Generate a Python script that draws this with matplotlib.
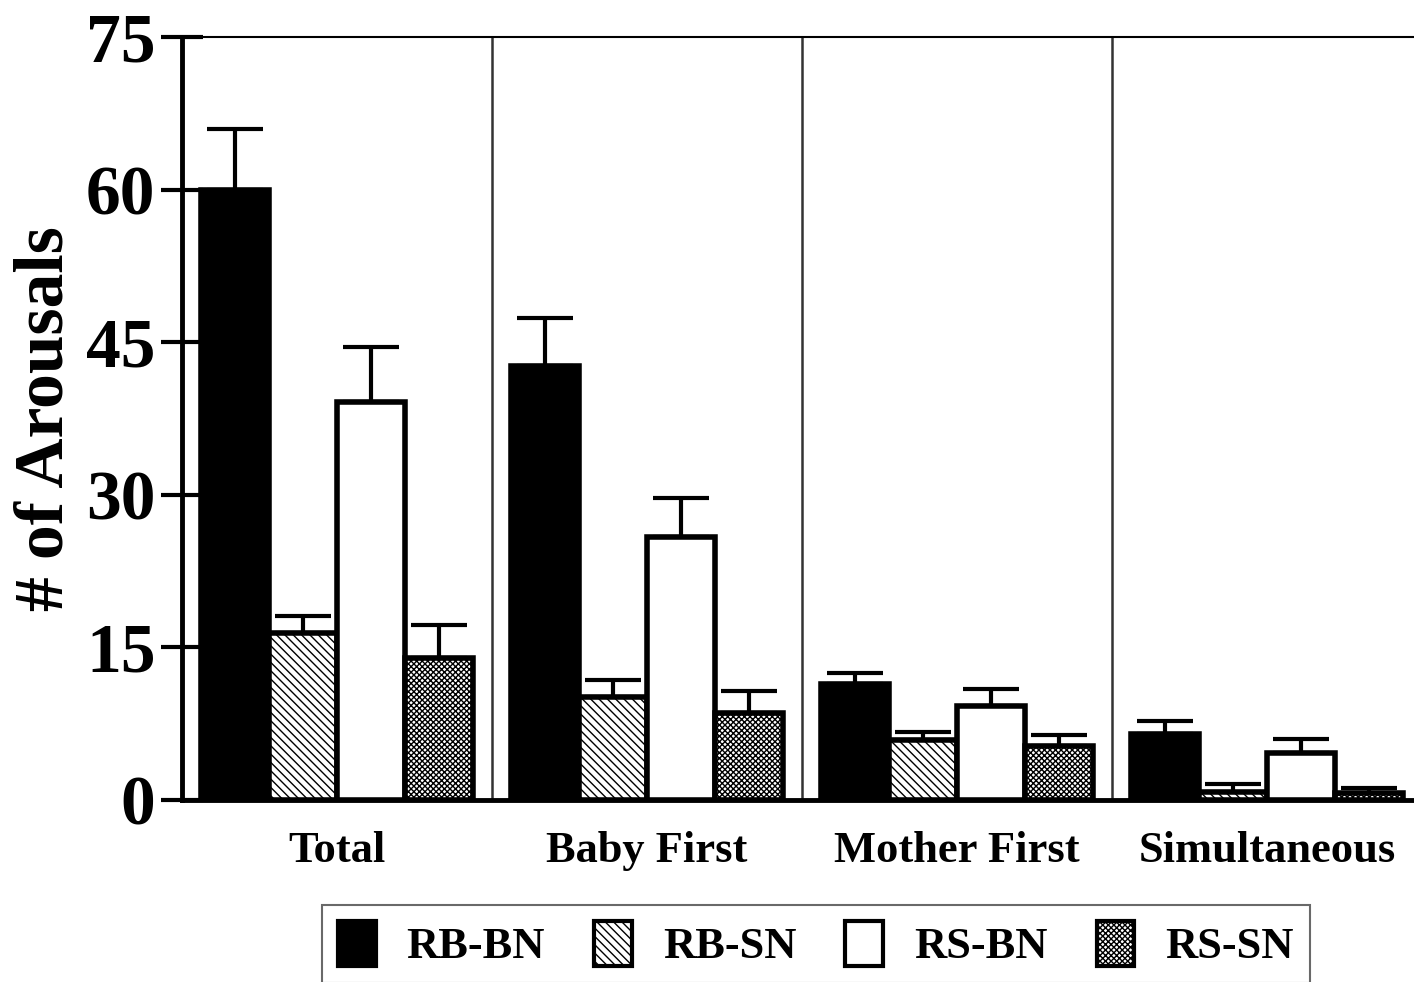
import numpy as np
import matplotlib.pyplot as plt

plt.rcParams['font.family'] = ['Liberation Serif', 'DejaVu Serif']
plt.rcParams['font.weight'] = 'bold'
plt.rcParams['hatch.linewidth'] = 1.0

# data
categories = ['Total', 'Baby First', 'Mother First', 'Simultaneous']
series = ['RB-BN', 'RB-SN', 'RS-BN', 'RS-SN']
rb_bn = [60.0, 42.7, 11.4, 6.5]
rb_sn = [16.4, 10.1, 5.9, 0.8]
rs_bn = [39.1, 25.9, 9.2, 4.6]
rs_sn = [14.0, 8.6, 5.3, 0.7]
rb_bn_err = [6.0, 4.7, 1.1, 1.3]
rb_sn_err = [1.7, 1.7, 0.8, 0.8]
rs_bn_err = [5.4, 3.8, 1.7, 1.4]
rs_sn_err = [3.2, 2.1, 1.1, 0.5]

means = [rb_bn, rb_sn, rs_bn, rs_sn]
errs = [rb_bn_err, rb_sn_err, rs_bn_err, rs_sn_err]
faces = ['black', 'white', 'white', 'white']
hatches = [None, '\\\\\\\\', None, 'xxxxxx']

fig = plt.figure(figsize=(14.14, 9.82), dpi=100)
ax = fig.add_axes([0.1287, 0.1853, 0.877, 0.777])

x = np.arange(len(categories))
w = 0.22
for i in range(4):
    pos = x + (i - 1.5) * w
    ax.bar(pos, means[i], width=w, color=faces[i], edgecolor='black',
           linewidth=4, hatch=hatches[i], zorder=3)
    ax.errorbar(pos, means[i], yerr=[np.zeros(4), errs[i]], fmt='none',
                ecolor='black', elinewidth=3, capsize=20, capthick=3, zorder=2)

for b in [0.5, 1.5, 2.5]:
    ax.axvline(b, color='#333333', lw=1.8, zorder=1)

ax.set_xlim(-0.5, 3.5)
ax.set_ylim(0, 75)
ax.set_yticks([0, 15, 30, 45, 60, 75])
ax.tick_params(axis='y', direction='inout', length=30, width=3, labelsize=50, pad=4)
ax.tick_params(axis='x', length=0, labelsize=32, pad=22)
ax.set_xticks(x)
ax.set_xticklabels(categories, fontweight='bold')
for lab in ax.get_yticklabels():
    lab.set_fontweight('bold')

ax.spines['left'].set_linewidth(3.5)
ax.spines['bottom'].set_linewidth(3.5)
ax.spines['top'].set_linewidth(1.5)
ax.spines['right'].set_visible(False)
ax.set_ylabel('# of Arousals', fontsize=50, fontweight='bold', labelpad=6)

handles = [plt.Rectangle((0, 0), 1, 1, facecolor=faces[i], edgecolor='black',
                         linewidth=3, hatch=hatches[i]) for i in range(4)]
leg = fig.legend(handles, series, ncol=4, loc='upper center',
                 bbox_to_anchor=(0.577, 1 - 905 / 982), frameon=True,
                 fancybox=False, edgecolor='#444444',
                 prop={'weight': 'bold', 'size': 32}, handlelength=0.85,
                 handleheight=1.2, handletextpad=0.7, columnspacing=1.1,
                 borderpad=0.35, borderaxespad=0)
leg.get_frame().set_linewidth(1.5)

fig.savefig('out.png', dpi=100)
